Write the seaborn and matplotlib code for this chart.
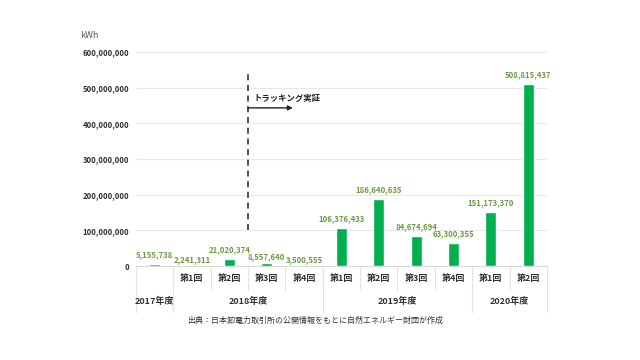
import matplotlib
matplotlib.use('Agg')
import matplotlib.pyplot as plt
import matplotlib.transforms as mtransforms
import pandas as pd
import seaborn as sns

periods = ['2017', '2018-1', '2018-2', '2018-3', '2018-4',
           '2019-1', '2019-2', '2019-3', '2019-4', '2020-1', '2020-2']
round_labels = ['', '第1回', '第2回', '第3回', '第4回',
                '第1回', '第2回', '第3回', '第4回', '第1回', '第2回']
kwh = [5155738, 2241311, 21020374, 8557640, 3500555,
       106376433, 186640635, 84674694, 63300355, 151173370, 508815437]
years = ['2017年度', '2018年度', '2019年度', '2020年度']
year_spans = [(0, 0), (1, 4), (5, 8), (9, 10)]
# label offsets above each bar (points), the original places them by hand
label_pad = [3.5, 1, 3.3, 1.5, 0.6, 3.6, 3.6, 3.6, 3.6, 3.6, 3.6]

sns.set_style('white')
plt.rcParams['font.family'] = ['Noto Sans CJK JP', 'DejaVu Sans']

df = pd.DataFrame({'period': periods, 'kwh': kwh})

fig = plt.figure(figsize=(6.4, 3.6), dpi=100)
ax = fig.add_axes([0.2125, 0.261, 0.642, 0.595])

sns.barplot(data=df, x='period', y='kwh', color='#00b04f', width=0.3,
            saturation=1, ax=ax, zorder=3)

ax.set_ylim(0, 600000000)
ax.set_xlim(-0.5, len(periods) - 0.5)
ax.set_yticks(range(0, 600000001, 100000000))
ax.set_yticklabels([f'{v:,}' for v in range(0, 600000001, 100000000)],
                   fontsize=5.6, fontweight='bold', color='#333333')
ax.tick_params(axis='y', length=0, pad=5)
ax.set_xticks([])
ax.set_xlabel('')
ax.set_ylabel('')
ax.grid(axis='y', color='#e8e8e8', linewidth=0.8, zorder=0)
for s in ['top', 'right', 'left']:
    ax.spines[s].set_visible(False)
ax.spines['bottom'].set_color('#d9d9d9')
ax.spines['bottom'].set_linewidth(0.8)

for i, v in enumerate(kwh):
    ax.annotate(f'{v:,}', (i, v), xytext=(0, label_pad[i]),
                textcoords='offset points', ha='center', va='bottom',
                fontsize=5.6, fontweight='bold', color='#6f9b45')

# category table under the axis
trans = mtransforms.blended_transform_factory(ax.transData, ax.transAxes)
row1 = -0.112
row2 = -0.215
line_kw = dict(color='#e3e3e3', linewidth=0.8, transform=trans, clip_on=False)
for i, lab in enumerate(round_labels):
    if lab:
        ax.text(i, row1 / 2, lab, transform=trans, ha='center', va='center',
                fontsize=6.5, fontweight='bold', color='#333333')
for i in range(len(periods) - 1):
    ax.plot([i + 0.5, i + 0.5], [0, row1], **line_kw)
for name, (a, b) in zip(years, year_spans):
    ax.text((a + b) / 2, (row1 + row2) / 2, name, transform=trans,
            ha='center', va='center', fontsize=6.5, fontweight='bold',
            color='#333333')
    ax.plot([a - 0.5, a - 0.5], [0, row2], **line_kw)
ax.plot([len(periods) - 0.5] * 2, [0, row2], **line_kw)

# tracking demonstration marker
ax.plot([2.5, 2.5], [100000000, 545000000], color='#222222',
        linewidth=1.1, linestyle=(0, (4, 3)), zorder=4)
ax.annotate('', xy=(3.7, 443000000), xytext=(2.5, 443000000),
            arrowprops=dict(arrowstyle='-|>', color='#222222', lw=1.0,
                            mutation_scale=7, shrinkA=0, shrinkB=0))
ax.text(2.65, 470000000, 'トラッキング実証', fontsize=6, fontweight='bold',
        color='#222222', ha='left', va='center')

fig.text(0.125, 0.902, 'kWh', fontsize=6.5, color='#555555', ha='left',
         va='center')
fig.text(0.492, 0.111, '出典：日本卸電力取引所の公開情報をもとに自然エネルギー財団が作成',
         fontsize=5.8, color='#333333', ha='center', va='center')

fig.savefig('out.png', dpi=100)
